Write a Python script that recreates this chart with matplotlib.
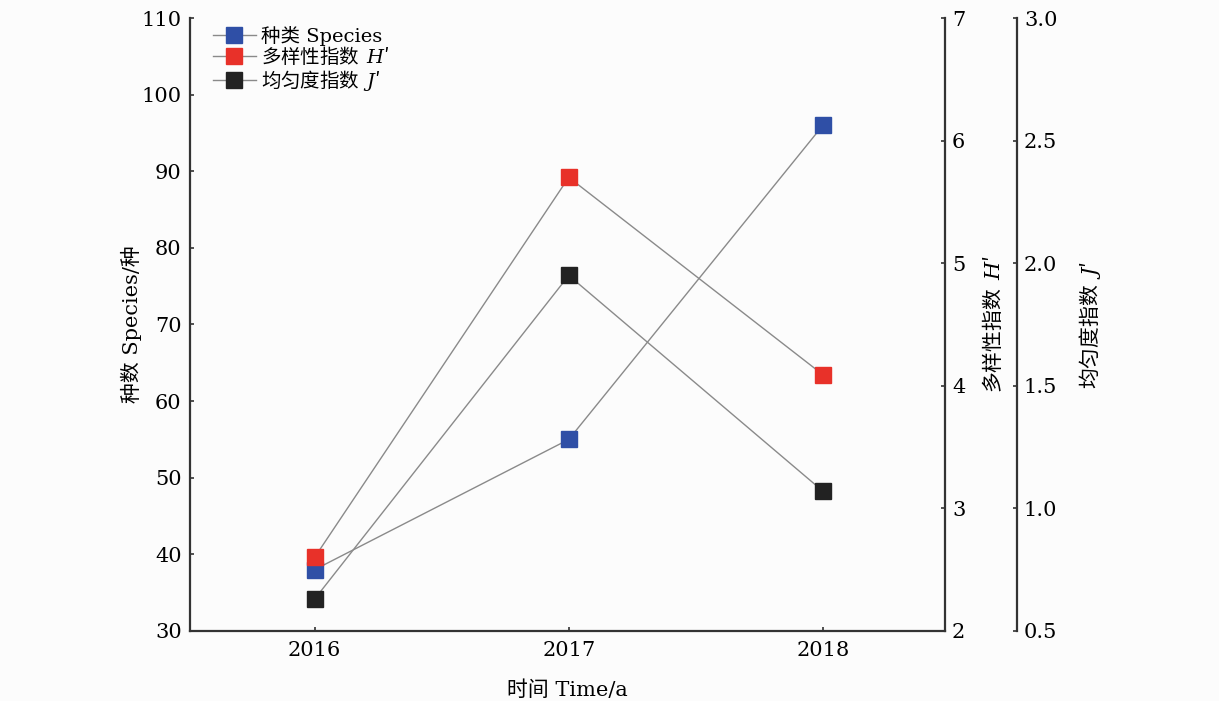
import matplotlib.pyplot as plt
from matplotlib.lines import Line2D

plt.rcParams['font.family'] = ['DejaVu Serif', 'Noto Sans CJK SC']
plt.rcParams['mathtext.fontset'] = 'custom'
plt.rcParams['mathtext.rm'] = 'DejaVu Serif'
plt.rcParams['mathtext.it'] = 'DejaVu Serif:italic'

# 数据
years = [2016, 2017, 2018]
species = [38, 55, 96]
h_index = [2.6, 5.7, 4.09]
j_index = [0.63, 1.95, 1.07]

c_blue = '#2f4fa6'
c_red = '#e83129'
c_black = '#222222'
c_line = '#8a8a8a'
cjk = ['Noto Sans CJK SC', 'DejaVu Serif']
serif = ['DejaVu Serif', 'Noto Sans CJK SC']

fig = plt.figure(figsize=(12.19, 7.01), dpi=100)
fig.patch.set_facecolor('#fcfcfc')
ax = fig.add_axes([0.1559, 0.0999, 0.6193, 0.8744])
ax.set_facecolor('#fcfcfc')
ax2 = ax.twinx()
ax3 = ax.twinx()
ax3.spines['right'].set_position(('axes', 1.0954))

ms = 12
ax.plot(years, species, color=c_line, lw=1, marker='s', ms=ms,
        mfc=c_blue, mec=c_blue, zorder=3)
ax2.plot(years, h_index, color=c_line, lw=1, marker='s', ms=ms,
         mfc=c_red, mec=c_red, zorder=3)
ax3.plot(years, j_index, color=c_line, lw=1, marker='s', ms=ms,
         mfc=c_black, mec=c_black, zorder=3)

ax.set_xlim(2015.51, 2018.48)
ax.set_ylim(30, 110)
ax2.set_ylim(2, 7)
ax3.set_ylim(0.5, 3.0)
ax.set_xticks(years)
ax.set_yticks(range(30, 111, 10))
ax2.set_yticks(range(2, 8))
ax3.set_yticks([0.5, 1.0, 1.5, 2.0, 2.5, 3.0])
ax3.set_yticklabels(['0.5', '1.0', '1.5', '2.0', '2.5', '3.0'])

for a in (ax, ax2, ax3):
    a.spines['top'].set_visible(False)
    a.tick_params(direction='in', length=3, width=1.2, labelsize=15, color='#333333')
    for s in a.spines.values():
        s.set_linewidth(1.6)
        s.set_color('#333333')
ax.spines['right'].set_visible(False)
for a in (ax2, ax3):
    a.spines['left'].set_visible(False)
    a.spines['bottom'].set_visible(False)
ax.tick_params(axis='y', pad=6)
ax.tick_params(axis='x', pad=7)
ax2.tick_params(axis='y', pad=5)
ax3.tick_params(axis='y', pad=5)

ax.set_xlabel('时间 Time/a', fontsize=15, labelpad=15, family=serif)
ax.set_ylabel('种数 Species/种', fontsize=15, labelpad=0, family=serif)
ax2.set_ylabel("多样性指数  $H$′", fontsize=15, labelpad=12, family=cjk)
ax3.set_ylabel("均匀度指数  $J$′", fontsize=15, labelpad=14, family=cjk)

handles = [
    Line2D([], [], color=c_line, lw=1, marker='s', ms=ms, mfc=c_blue, mec=c_blue),
    Line2D([], [], color=c_line, lw=1, marker='s', ms=ms, mfc=c_red, mec=c_red),
    Line2D([], [], color=c_line, lw=1, marker='s', ms=ms, mfc=c_black, mec=c_black),
]
labels = ['种类 Species', "多样性指数  $H$′", "均匀度指数  $J$′"]
leg = ax3.legend(handles, labels, loc='upper left', bbox_to_anchor=(0.02, 1.0),
                 frameon=False, handlelength=2.2, handletextpad=0.25,
                 labelspacing=0.0, borderaxespad=0, prop={'family': cjk, 'size': 14})
leg.get_texts()[0].set_fontfamily(serif)

fig.savefig('out.png', dpi=100, facecolor=fig.get_facecolor())
